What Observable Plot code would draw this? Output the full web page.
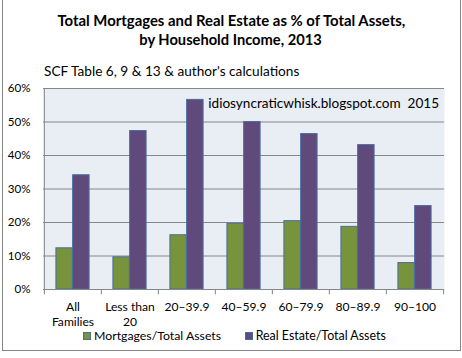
<!DOCTYPE html>
<html><head><meta charset="utf-8">
<script src="https://cdn.jsdelivr.net/npm/d3@7"></script>
<script src="https://cdn.jsdelivr.net/npm/@observablehq/plot@0.6"></script>
<style>
body{margin:0;background:#fff;width:462px;height:358px;overflow:hidden;position:relative;}
#frame{position:absolute;left:2px;top:-1px;width:459px;height:352px;border:1px solid #868686;box-sizing:border-box;}
#chart{position:absolute;left:0;top:0;}
.t{position:absolute;font-family:Lato,sans-serif;color:#000;white-space:nowrap;line-height:1;font-size:13px;}
.b{font-weight:bold;}
.sw{position:absolute;width:8px;height:8px;border:1px solid #4A6DA0;box-sizing:border-box;}
</style></head><body>
<div id="frame"></div>
<div id="chart"></div>
<div class="t b" id="title1">Total Mortgages and Real Estate as % of Total Assets,</div>
<div class="t b" id="title2">by Household Income, 2013</div>
<div class="t" id="sub">SCF Table 6, 9 &amp; 13 &amp; author's calculations</div>
<div class="t" id="mark">idiosyncraticwhisk.blogspot.com&nbsp;&nbsp;2015</div>
<div class="sw" id="sw0"></div><div class="t" id="lg0"></div>
<div class="sw" id="sw1"></div><div class="t" id="lg1"></div>
<script>
const categories = ["All Families","Less than 20","20–39.9","40–59.9","60–79.9","80–89.9","90–100"];
const tickLine1 = ["All","Less than","20–39.9","40–59.9","60–79.9","80–89.9","90–100"];
const tickLine2 = ["Families","20","","","","",""];
const mortgages  = [0.123,0.096,0.162,0.196,0.204,0.187,0.079];
const realEstate = [0.341,0.473,0.566,0.500,0.464,0.431,0.249];
const seriesNames = ["Mortgages/Total Assets","Real Estate/Total Assets"];
const seriesColors = ["#77933C","#604A7B"];
const yTicks = [0,0.1,0.2,0.3,0.4,0.5,0.6];

const W = 462, H = 358, mL = 43, mR = 18, mT = 88, mB = 69;
const step = (W - mL - mR) / categories.length;
const barW = step * 0.292;
const edge = "#4A6DA0", grid = "#868686";

const ctx = document.createElement("canvas").getContext("2d");
function fitSize(text, target, weight = "") {
  ctx.font = `${weight} 100px Lato`;
  return 100 * target / ctx.measureText(text).width;
}
const tickFS = fitSize("Less than", 49.6);
const yFS = fitSize("60%", 22.7);

const rows = (vals, s) => categories.map((c, i) => ({category: c, series: s, value: vals[i]}));
const mRows = rows(mortgages, seriesNames[0]);
const rRows = rows(realEstate, seriesNames[1]);

const plot = Plot.plot({
  width: W, height: H,
  marginLeft: mL, marginRight: mR, marginTop: mT, marginBottom: mB,
  style: {background: "transparent", fontFamily: "Lato, sans-serif"},
  x: {domain: categories, padding: 0, axis: null},
  y: {domain: [0, 0.6], axis: null},
  marks: [
    Plot.frame({fill: "#E9EDF4", stroke: null}),
    Plot.ruleY(yTicks, {stroke: grid, strokeWidth: 1}),
    Plot.barY(mRows, {x: "category", y: "value", fill: seriesColors[0], stroke: edge, strokeWidth: 1,
      insetLeft: step / 2 - barW, insetRight: step / 2}),
    Plot.barY(rRows, {x: "category", y: "value", fill: seriesColors[1], stroke: edge, strokeWidth: 1,
      insetLeft: step / 2, insetRight: step / 2 - barW}),
    Plot.ruleX([categories[0]], {x: d => d, y1: 0, y2: 0.6, dx: -step / 2, stroke: grid}),
    Plot.ruleY([0], {stroke: grid}),
    Plot.ruleX(categories, {x: d => d, y1: 0, y2: -0.016, dx: -step / 2, stroke: grid}),
    Plot.ruleX([categories[categories.length - 1]], {x: d => d, y1: 0, y2: -0.016, dx: step / 2, stroke: grid}),
    Plot.axisY({ticks: yTicks, tickFormat: d3.format(".0%"), tickSize: 0, tickPadding: 13, fontSize: yFS, fill: "#000", label: null}),
    Plot.text(categories, {x: d => d, y: 0, text: (d, i) => tickLine1[i], lineAnchor: "bottom", dy: 21,
      fontSize: tickFS, fill: "#000"}),
    Plot.text(categories, {x: d => d, y: 0, text: (d, i) => tickLine2[i], lineAnchor: "bottom", dy: 36.5,
      fontSize: tickFS, fill: "#000"})
  ]
});
document.getElementById("chart").appendChild(plot);

document.getElementById("lg0").textContent = seriesNames[0];
document.getElementById("lg1").textContent = seriesNames[1];

function place(id, {left, center, width, baseline}) {
  const el = document.getElementById(id);
  let fs = 13;
  for (let k = 0; k < 4; k++) {
    el.style.fontSize = fs + "px";
    fs *= width / el.getBoundingClientRect().width;
  }
  el.style.fontSize = fs + "px";
  const w = el.getBoundingClientRect().width;
  el.style.left = (center != null ? center - w / 2 : left) + "px";
  el.style.top = "0px";
  const m = document.createElement("span");
  m.style.cssText = "display:inline-block;width:0;height:0;vertical-align:baseline";
  el.appendChild(m);
  const b = m.getBoundingClientRect().bottom;
  el.style.top = (baseline - b) + "px";
}
place("title1", {center: 231.3, width: 347.7, baseline: 26});
place("title2", {center: 230.5, width: 182.4, baseline: 45});
place("sub", {left: 44, width: 255.3, baseline: 76});
place("mark", {left: 208.3, width: 231, baseline: 108.3});
place("lg0", {left: 94, width: 127, baseline: 339.5});
place("lg1", {left: 255.7, width: 130, baseline: 339.5});
const sw0 = document.getElementById("sw0"), sw1 = document.getElementById("sw1");
sw0.style.background = seriesColors[0]; sw0.style.left = "82.5px"; sw0.style.top = "331.5px";
sw1.style.background = seriesColors[1]; sw1.style.left = "244.5px"; sw1.style.top = "331.5px";
</script>
</body></html>
